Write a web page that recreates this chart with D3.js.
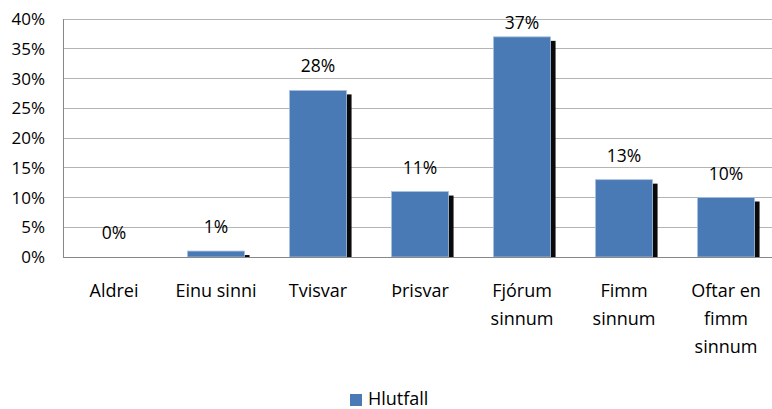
<!DOCTYPE html>
<html>
<head>
<meta charset="utf-8">
<style>
  body { margin: 0; background: #fff; }
  text { font-family: "Open Sans", sans-serif; fill: #000; }
</style>
</head>
<body>
<div id="chart"></div>
<script src="https://d3js.org/d3.v7.min.js"></script>
<script>

    // data
    var categories = ["Aldrei", "Einu sinni", "Tvisvar", "Þrisvar", "Fjórum sinnum", "Fimm sinnum", "Oftar en fimm sinnum"];
    // how the category labels wrap
    var labelLines = [["Aldrei"], ["Einu sinni"], ["Tvisvar"], ["Þrisvar"], ["Fjórum", "sinnum"], ["Fimm", "sinnum"], ["Oftar en", "fimm", "sinnum"]];
    var values = [0, 1, 28, 11, 37, 13, 10];
    var yTicks = [0, 5, 10, 15, 20, 25, 30, 35, 40];
    var seriesName = "Hlutfall";

    var W = 772, H = 409;
    var margin = {top: 19, left: 63, bottom: 257};
    var plotRight = 777;

    var svg = d3.select("#chart").append("svg")
        .attr("width", W)
        .attr("height", H);

    var x = d3.scaleBand()
        .domain(categories)
        .range([margin.left, plotRight])
        .paddingInner(0.44)
        .paddingOuter(0.22);

    var y = d3.scaleLinear()
        .domain([0, 40])
        .range([margin.bottom, margin.top]);

    // gridlines
    svg.append("g")
      .selectAll("line")
      .data(yTicks)
      .enter()
      .append("line")
        .attr("x1", margin.left)
        .attr("x2", plotRight)
        .attr("y1", function(d){ return y(d) })
        .attr("y2", function(d){ return y(d) })
        .attr("stroke", function(d){ return d === 0 ? "#888" : "#b4b4b4" })
        .attr("stroke-width", 1)
        .attr("shape-rendering", "crispEdges");

    // left axis line
    svg.append("line")
        .attr("x1", margin.left).attr("x2", margin.left)
        .attr("y1", y(40)).attr("y2", y(0))
        .attr("stroke", "#888")
        .attr("shape-rendering", "crispEdges");

    // y tick labels
    svg.append("g")
      .selectAll("text")
      .data(yTicks)
      .enter()
      .append("text")
        .attr("x", 45)
        .attr("y", function(d){ return y(d) + 6 })
        .attr("text-anchor", "end")
        .style("font-size", "17px")
        .text(function(d){ return d + "%" });

    // clip so shadows stop at the baseline
    svg.append("clipPath").attr("id", "plotclip")
      .append("rect")
        .attr("x", margin.left).attr("y", 0)
        .attr("width", plotRight - margin.left)
        .attr("height", margin.bottom);

    var bars = svg.append("g").attr("clip-path", "url(#plotclip)");

    // shadows
    bars.selectAll("rect.shadow")
      .data(values)
      .enter()
      .append("rect")
        .attr("class", "shadow")
        .attr("x", function(d, i){ return x(categories[i]) + 5 })
        .attr("y", function(d){ return y(d) + 4 })
        .attr("width", x.bandwidth())
        .attr("height", function(d){ return Math.max(0, y(0) - y(d)) })
        .attr("fill", "#0a0a0a");

    // bars
    bars.selectAll("rect.bar")
      .data(values)
      .enter()
      .append("rect")
        .attr("class", "bar")
        .attr("x", function(d, i){ return x(categories[i]) })
        .attr("y", function(d){ return y(d) })
        .attr("width", x.bandwidth())
        .attr("height", function(d){ return y(0) - y(d) })
        .attr("fill", "#4a7ab5")
        .attr("stroke", function(d){ return d > 0 ? "#a9c2e3" : "none" })
        .attr("stroke-width", 0.8);

    // value labels
    svg.append("g")
      .selectAll("text")
      .data(values)
      .enter()
      .append("text")
        .attr("x", function(d, i){ return x(categories[i]) + x.bandwidth() / 2 })
        .attr("y", function(d){ return Math.max(y(d) - 18, 29) })
        .attr("text-anchor", "middle")
        .style("font-size", "17.5px")
        .text(function(d){ return d + "%" });

    // category labels
    var cat = svg.append("g")
      .selectAll("text")
      .data(categories)
      .enter()
      .append("text")
        .attr("text-anchor", "middle")
        .style("font-size", "18px");
    cat.each(function(d, i){
        var t = d3.select(this);
        labelLines[i].forEach(function(line, j){
            t.append("tspan")
                .attr("x", x(d) + x.bandwidth() / 2)
                .attr("y", 297 + j * 28)
                .text(line);
        });
    });

    // legend
    var legend = svg.append("g");
    legend.append("rect")
        .attr("x", 350).attr("y", 394)
        .attr("width", 12).attr("height", 12)
        .attr("fill", "#4a7ab5");
    legend.append("text")
        .attr("x", 368).attr("y", 405)
        .style("font-size", "18px")
        .text(seriesName);

</script>
</body>
</html>
